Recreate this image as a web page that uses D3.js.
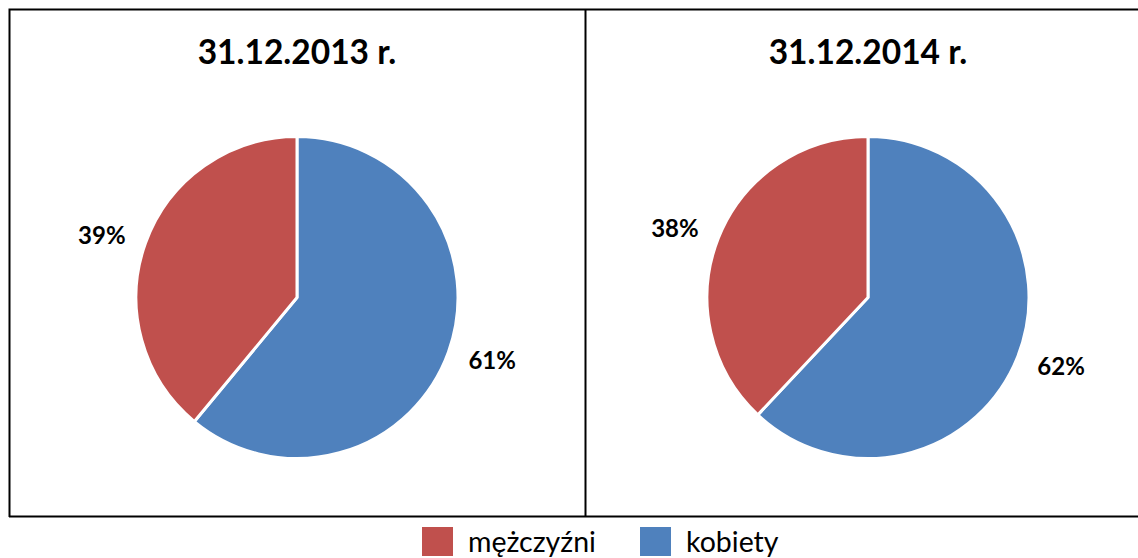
<!DOCTYPE html>
<html><head><meta charset="utf-8">
<script src="https://cdn.jsdelivr.net/npm/d3@7"></script>
<style>body{margin:0;background:#fff}svg{display:block}</style>
</head><body>
<script>
const categories = ["kobiety", "mężczyźni"];
const titles = ["31.12.2013 r.", "31.12.2014 r."];
const values2013 = [61, 39];
const values2014 = [62, 38];
const legendOrder = ["mężczyźni", "kobiety"];
const colors = {"kobiety": "#4F81BD", "mężczyźni": "#C0504D"};

const W = 1138, H = 558;
const svg = d3.select("body").append("svg").attr("width", W).attr("height", H);
const font = "Lato, 'Open Sans', sans-serif";

// frame
svg.append("path").attr("d", "M9.5,517 L9.5,9.5 L1138,9.5").attr("fill","none").attr("stroke","#000").attr("stroke-width",2);
svg.append("line").attr("x1",9).attr("x2",1138).attr("y1",516.5).attr("y2",516.5).attr("stroke","#000").attr("stroke-width",2);
svg.append("line").attr("x1",585.5).attr("x2",585.5).attr("y1",9).attr("y2",517).attr("stroke","#000").attr("stroke-width",2);

const panels = [
  {title: titles[0], values: values2013, cx: 297},
  {title: titles[1], values: values2014, cx: 868}
];
const cy = 297.5, R = 161, rLabel = 205, labelRot = -0.035;
const pie = d3.pie().sort(null).value(d => d.v);
const arc = d3.arc().innerRadius(0).outerRadius(R);

panels.forEach(p => {
  const g = svg.append("g").attr("transform", `translate(${p.cx},${cy})`);
  const data = categories.map((c, i) => ({c, v: p.values[i]}));
  const arcs = pie(data);
  g.selectAll("path").data(arcs).join("path")
    .attr("d", arc).attr("fill", d => colors[d.data.c])
    .attr("stroke", "#fff").attr("stroke-width", 3).attr("stroke-linejoin","round");
  const mid = d => (d.startAngle + d.endAngle)/2 + labelRot;
  g.selectAll("text").data(arcs).join("text")
    .attr("x", d => Math.sin(mid(d)) * rLabel)
    .attr("y", d => -Math.cos(mid(d)) * rLabel)
    .attr("text-anchor","middle").attr("dy","0.36em")
    .attr("font-family", font).attr("font-weight","bold").attr("font-size",24)
    .text(d => d.data.v + "%");
  svg.append("text").attr("x", p.cx).attr("y", 64).attr("text-anchor","middle")
    .attr("font-family", font).attr("font-weight","bold").attr("font-size",33.5)
    .text(p.title);
});

// legend
const leg = [{c: legendOrder[0], x: 422}, {c: legendOrder[1], x: 640}];
leg.forEach(l => {
  svg.append("rect").attr("x", l.x).attr("y", 527).attr("width", 31).attr("height", 29).attr("fill", colors[l.c]);
  svg.append("text").attr("x", l.x + 46).attr("y", 552).attr("font-family", font).attr("font-size", 28.5).text(l.c);
});
</script>
</body></html>
